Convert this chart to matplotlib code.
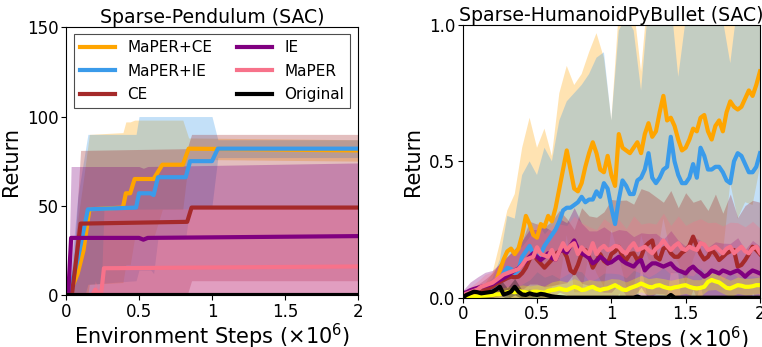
import numpy as np
import matplotlib
matplotlib.use("Agg")
import matplotlib.pyplot as plt

# ---------------- Left panel: Sparse-Pendulum (SAC) ----------------
pend_orange_x = [0, 0.02, 0.08, 0.12, 0.16, 0.39, 0.41, 0.44, 0.47, 0.60, 0.66, 0.80, 0.84, 2.0]
pend_orange_mean = [0, 0, 12, 25, 48, 49, 57, 57, 65, 65, 73, 73, 82, 81]
pend_orange_std = [0, 0, 30, 40, 42, 42, 40, 40, 33, 33, 25, 25, 6, 6]

pend_blue_x = [0, 0.02, 0.08, 0.15, 0.48, 0.50, 0.58, 0.60, 0.63, 0.82, 0.85, 1.00, 1.04, 2.0]
pend_blue_mean = [0, 0, 20, 48, 49, 57, 57, 56, 66, 66, 75, 75, 82, 82]
pend_blue_std = [0, 0, 35, 42, 41, 43, 43, 44, 34, 34, 25, 25, 5, 5]

pend_ce_x = [0, 0.04, 0.10, 0.83, 0.86, 2.0]
pend_ce_mean = [0, 0, 40, 41, 49, 49]
pend_ce_std = [0, 0, 41, 41, 41, 41]

pend_ie_x = [0, 0.015, 0.035, 0.50, 0.53, 0.56, 2.0]
pend_ie_mean = [0, 0, 32, 32, 31, 32, 33]
pend_ie_std = [0, 0, 40, 40, 40, 40, 41]

pend_maper_x = [0, 0.18, 0.20, 0.22, 0.24, 0.26, 2.0]
pend_maper_mean = [0, 0, 3, 1, 0, 15, 16]
pend_maper_std = [0, 0, 5, 3, 0, 33, 33]

pend_orig_x = [0, 2.0]
pend_orig_mean = [0, 0]
pend_orig_std = [0, 0]

# ---------------- Right panel: Sparse-HumanoidPyBullet (SAC) ----------------
hum_x = np.linspace(0, 2, 81)
hum_orange = [0.00, 0.00, 0.005, 0.01, 0.01, 0.015, 0.02, 0.03, 0.04, 0.06,
              0.10, 0.14, 0.17, 0.18, 0.16, 0.18, 0.23, 0.30, 0.27, 0.23,
              0.22, 0.27, 0.26, 0.30, 0.28, 0.33, 0.40, 0.47, 0.54, 0.47,
              0.40, 0.39, 0.42, 0.48, 0.53, 0.57, 0.53, 0.47, 0.46, 0.52,
              0.45, 0.41, 0.60, 0.55, 0.54, 0.53, 0.55, 0.57, 0.53, 0.60,
              0.64, 0.59, 0.61, 0.68, 0.74, 0.65, 0.66, 0.63, 0.58, 0.54,
              0.55, 0.58, 0.62, 0.61, 0.66, 0.67, 0.61, 0.58, 0.63, 0.65,
              0.61, 0.68, 0.72, 0.70, 0.69, 0.70, 0.73, 0.76, 0.74, 0.78, 0.83]
hum_blue = [0.00, 0.00, 0.003, 0.005, 0.008, 0.012, 0.016, 0.02, 0.03, 0.045,
            0.07, 0.09, 0.11, 0.105, 0.09, 0.10, 0.15, 0.17, 0.19, 0.16,
            0.15, 0.16, 0.19, 0.21, 0.23, 0.25, 0.28, 0.32, 0.33, 0.33,
            0.34, 0.35, 0.37, 0.35, 0.36, 0.36, 0.39, 0.37, 0.42, 0.40,
            0.33, 0.27, 0.36, 0.43, 0.41, 0.38, 0.38, 0.43, 0.44, 0.47,
            0.53, 0.44, 0.42, 0.44, 0.47, 0.48, 0.59, 0.50, 0.45, 0.42,
            0.42, 0.44, 0.49, 0.44, 0.55, 0.52, 0.47, 0.47, 0.48, 0.48,
            0.46, 0.43, 0.42, 0.50, 0.53, 0.52, 0.49, 0.46, 0.46, 0.48, 0.53]
hum_ce = [0.004, 0.006, 0.01, 0.012, 0.018, 0.022, 0.028, 0.034, 0.04, 0.05,
          0.058, 0.065, 0.072, 0.077, 0.075, 0.077, 0.09, 0.11, 0.14, 0.16,
          0.14, 0.125, 0.11, 0.125, 0.14, 0.16, 0.17, 0.175, 0.15, 0.10,
          0.09, 0.12, 0.16, 0.175, 0.15, 0.11, 0.135, 0.16, 0.135, 0.125,
          0.16, 0.17, 0.187, 0.15, 0.138, 0.16, 0.163, 0.138, 0.15, 0.187,
          0.20, 0.21, 0.15, 0.14, 0.18, 0.187, 0.163, 0.15, 0.15, 0.165,
          0.175, 0.19, 0.224, 0.19, 0.16, 0.14, 0.15, 0.175, 0.16, 0.138,
          0.15, 0.163, 0.17, 0.175, 0.114, 0.12, 0.138, 0.16, 0.187, 0.175, 0.16]
hum_ie = [0.016, 0.02, 0.027, 0.032, 0.036, 0.04, 0.043, 0.046, 0.05, 0.058,
          0.065, 0.072, 0.08, 0.09, 0.10, 0.107, 0.12, 0.135, 0.15, 0.163,
          0.15, 0.138, 0.15, 0.163, 0.145, 0.14, 0.17, 0.175, 0.165, 0.19,
          0.21, 0.18, 0.163, 0.155, 0.145, 0.126, 0.135, 0.15, 0.14, 0.126,
          0.13, 0.14, 0.15, 0.135, 0.126, 0.12, 0.114, 0.13, 0.138, 0.10,
          0.115, 0.126, 0.126, 0.12, 0.114, 0.12, 0.126, 0.11, 0.10, 0.095,
          0.089, 0.105, 0.114, 0.10, 0.09, 0.077, 0.085, 0.10, 0.095, 0.089,
          0.10, 0.095, 0.089, 0.095, 0.10, 0.09, 0.077, 0.09, 0.10, 0.095, 0.089]
hum_maper = [0.01, 0.015, 0.02, 0.025, 0.03, 0.04, 0.045, 0.05, 0.055, 0.065,
             0.075, 0.085, 0.09, 0.095, 0.10, 0.105, 0.12, 0.14, 0.145, 0.15,
             0.185, 0.16, 0.155, 0.15, 0.175, 0.14, 0.17, 0.20, 0.175, 0.19,
             0.20, 0.16, 0.185, 0.17, 0.16, 0.20, 0.16, 0.18, 0.19, 0.175,
             0.18, 0.19, 0.187, 0.17, 0.163, 0.185, 0.20, 0.175, 0.18, 0.187,
             0.175, 0.163, 0.18, 0.19, 0.21, 0.19, 0.175, 0.19, 0.20, 0.18,
             0.175, 0.187, 0.18, 0.175, 0.20, 0.195, 0.175, 0.18, 0.187, 0.175,
             0.163, 0.18, 0.187, 0.163, 0.175, 0.187, 0.17, 0.163, 0.18, 0.187, 0.165]
hum_yellow = [0.0, 0.002, 0.004, 0.005, 0.006, 0.007, 0.008, 0.009, 0.01, 0.012,
              0.013, 0.016, 0.02, 0.022, 0.02, 0.024, 0.022, 0.02, 0.018, 0.022,
              0.022, 0.02, 0.018, 0.025, 0.028, 0.03, 0.034, 0.03, 0.028, 0.034,
              0.04, 0.036, 0.028, 0.03, 0.036, 0.04, 0.032, 0.028, 0.032, 0.034,
              0.04, 0.046, 0.038, 0.03, 0.028, 0.035, 0.04, 0.045, 0.052, 0.046,
              0.04, 0.038, 0.044, 0.046, 0.04, 0.036, 0.034, 0.038, 0.04, 0.044,
              0.046, 0.04, 0.036, 0.034, 0.036, 0.04, 0.058, 0.065, 0.06, 0.056,
              0.046, 0.036, 0.034, 0.04, 0.046, 0.044, 0.04, 0.04, 0.042, 0.046, 0.046]
hum_orig = [0.0, 0.01, 0.016, 0.022, 0.02, 0.016, 0.018, 0.02, 0.022, 0.03,
            0.04, 0.012, 0.016, 0.022, 0.04, 0.022, 0.012, 0.01, 0.016, 0.012,
            0.01, 0.014, 0.012, 0.008, 0.005, 0.003, 0.002, 0.001, 0.0, 0.0,
            0.0, 0.0, 0.0, 0.0, 0.0, 0.0, 0.0, 0.0, 0.0, 0.0,
            0.0, 0.0, 0.0, 0.0, 0.0, 0.0, 0.0, 0.004, 0.0, 0.0,
            0.0, 0.0, 0.0, 0.0, 0.0, 0.0, 0.01, 0.0, 0.0, 0.0,
            0.0, 0.0, 0.0, 0.0, 0.0, 0.0, 0.0, 0.0, 0.0, 0.0,
            0.0, 0.0, 0.0, 0.0, 0.0, 0.0, 0.0, 0.0, 0.0, 0.0, 0.0]

# band (std) values on a coarser evaluation grid
hum_band_x = np.linspace(0, 2, 41)
hum_orange_band_mean = [0.0, 0.005, 0.01, 0.02, 0.04, 0.10, 0.17, 0.16, 0.23, 0.27,
                        0.22, 0.26, 0.28, 0.40, 0.54, 0.40, 0.42, 0.53, 0.53, 0.46,
                        0.45, 0.60, 0.54, 0.55, 0.53, 0.64, 0.61, 0.74, 0.66, 0.58,
                        0.55, 0.62, 0.66, 0.61, 0.63, 0.61, 0.72, 0.69, 0.73, 0.74, 0.83]
hum_orange_std = [0.0, 0.015, 0.02, 0.03, 0.05, 0.10, 0.15, 0.22, 0.32, 0.39,
                  0.33, 0.36, 0.24, 0.35, 0.31, 0.38, 0.40, 0.37, 0.44, 0.42,
                  0.20, 0.45, 0.50, 0.52, 0.30, 0.50, 0.48, 0.45, 0.50, 0.45,
                  0.50, 0.48, 0.45, 0.46, 0.48, 0.45, 0.30, 0.40, 0.38, 0.40, 0.35]
hum_blue_band_mean = [0.0, 0.003, 0.008, 0.016, 0.03, 0.07, 0.11, 0.09, 0.15, 0.19,
                      0.15, 0.19, 0.23, 0.28, 0.33, 0.34, 0.37, 0.36, 0.39, 0.42,
                      0.33, 0.36, 0.41, 0.38, 0.44, 0.53, 0.42, 0.47, 0.59, 0.45,
                      0.42, 0.49, 0.55, 0.47, 0.48, 0.46, 0.42, 0.53, 0.49, 0.46, 0.53]
hum_blue_std = [0.0, 0.01, 0.015, 0.03, 0.04, 0.07, 0.19, 0.20, 0.30, 0.31,
                0.30, 0.36, 0.27, 0.37, 0.39, 0.41, 0.41, 0.46, 0.49, 0.48,
                0.32, 0.62, 0.62, 0.60, 0.32, 0.55, 0.58, 0.55, 0.50, 0.36,
                0.60, 0.55, 0.50, 0.56, 0.55, 0.56, 0.44, 0.55, 0.55, 0.56, 0.50]
hum_ce_band_mean = [0.004, 0.01, 0.018, 0.028, 0.04, 0.058, 0.072, 0.075, 0.09, 0.14,
                    0.14, 0.11, 0.14, 0.17, 0.15, 0.09, 0.16, 0.15, 0.135, 0.135,
                    0.16, 0.187, 0.138, 0.163, 0.15, 0.20, 0.15, 0.18, 0.163, 0.15,
                    0.175, 0.19, 0.16, 0.15, 0.16, 0.15, 0.17, 0.114, 0.138, 0.187, 0.16]
hum_ce_std = [0.01, 0.02, 0.03, 0.04, 0.05, 0.07, 0.08, 0.10, 0.12, 0.14,
              0.13, 0.15, 0.14, 0.15, 0.14, 0.16, 0.17, 0.15, 0.16, 0.18,
              0.20, 0.17, 0.22, 0.18, 0.25, 0.19, 0.22, 0.17, 0.23, 0.18,
              0.21, 0.16, 0.20, 0.17, 0.22, 0.16, 0.21, 0.18, 0.20, 0.17, 0.19]
hum_ie_band_mean = [0.016, 0.027, 0.036, 0.043, 0.05, 0.065, 0.08, 0.10, 0.12, 0.15,
                    0.15, 0.15, 0.145, 0.17, 0.165, 0.21, 0.163, 0.145, 0.135, 0.14,
                    0.13, 0.15, 0.126, 0.114, 0.138, 0.115, 0.126, 0.114, 0.126, 0.10,
                    0.089, 0.114, 0.09, 0.085, 0.095, 0.10, 0.089, 0.10, 0.077, 0.10, 0.089]
hum_ie_std = [0.01, 0.03, 0.04, 0.05, 0.05, 0.06, 0.07, 0.08, 0.09, 0.10,
              0.10, 0.11, 0.10, 0.12, 0.11, 0.12, 0.11, 0.10, 0.11, 0.12,
              0.11, 0.10, 0.12, 0.11, 0.10, 0.12, 0.11, 0.10, 0.12, 0.11,
              0.10, 0.11, 0.12, 0.10, 0.11, 0.10, 0.11, 0.12, 0.10, 0.11, 0.10]
hum_maper_band_mean = [0.01, 0.02, 0.03, 0.045, 0.055, 0.075, 0.09, 0.10, 0.12, 0.145,
                       0.185, 0.155, 0.175, 0.17, 0.175, 0.20, 0.185, 0.16, 0.16, 0.19,
                       0.18, 0.187, 0.163, 0.20, 0.18, 0.175, 0.18, 0.21, 0.175, 0.20,
                       0.175, 0.18, 0.20, 0.175, 0.187, 0.163, 0.187, 0.175, 0.17, 0.18, 0.165]
hum_maper_std = [0.01, 0.02, 0.03, 0.04, 0.04, 0.05, 0.06, 0.07, 0.07, 0.08,
                 0.09, 0.08, 0.09, 0.10, 0.09, 0.10, 0.09, 0.10, 0.09, 0.10,
                 0.09, 0.10, 0.09, 0.10, 0.09, 0.10, 0.09, 0.10, 0.09, 0.10,
                 0.09, 0.10, 0.09, 0.10, 0.09, 0.10, 0.09, 0.10, 0.09, 0.10, 0.09]
hum_yellow_band_mean = [0.0, 0.004, 0.006, 0.008, 0.01, 0.013, 0.02, 0.02, 0.022, 0.018,
                        0.022, 0.018, 0.028, 0.034, 0.028, 0.04, 0.028, 0.036, 0.032, 0.032,
                        0.04, 0.038, 0.028, 0.04, 0.052, 0.04, 0.044, 0.04, 0.034, 0.04,
                        0.046, 0.036, 0.036, 0.058, 0.06, 0.046, 0.034, 0.046, 0.04, 0.042, 0.046]
hum_yellow_std = [0.0, 0.01, 0.01, 0.015, 0.015, 0.02, 0.02, 0.02, 0.025, 0.025,
                  0.025, 0.025, 0.03, 0.03, 0.03, 0.03, 0.03, 0.03, 0.03, 0.03,
                  0.03, 0.03, 0.03, 0.03, 0.03, 0.03, 0.03, 0.03, 0.03, 0.03,
                  0.03, 0.03, 0.03, 0.03, 0.03, 0.03, 0.03, 0.03, 0.03, 0.03, 0.03]
hum_orig_band_mean = [0.0, 0.016, 0.02, 0.018, 0.022, 0.04, 0.016, 0.04, 0.012, 0.016,
                      0.01, 0.012, 0.005, 0.002, 0.0, 0.0, 0.0, 0.0, 0.0, 0.0,
                      0.0, 0.0, 0.0, 0.0, 0.0, 0.0, 0.0, 0.0, 0.01, 0.0,
                      0.0, 0.0, 0.0, 0.0, 0.0, 0.0, 0.0, 0.0, 0.0, 0.0, 0.0]
hum_orig_std = [0.0, 0.015, 0.02, 0.02, 0.02, 0.03, 0.02, 0.03, 0.015, 0.015,
                0.01, 0.01, 0.005, 0.003, 0.0, 0.0, 0.0, 0.0, 0.0, 0.0,
                0.0, 0.0, 0.0, 0.0, 0.0, 0.0, 0.0, 0.0, 0.01, 0.0,
                0.0, 0.0, 0.0, 0.0, 0.0, 0.0, 0.0, 0.0, 0.0, 0.0, 0.0]

labels = ["MaPER+CE", "MaPER+IE", "CE", "IE", "MaPER", "Original"]
colors = ["#FFA500", "#3A9BEA", "#A52A2A", "#800080", "#F7728A", "#000000"]
yellow = "#FFFF00"

LW = 3.0
ALPHA = 0.3

fig = plt.figure(figsize=(7.62, 3.47), dpi=100)
ax1 = fig.add_axes([66 / 762, 1 - 295 / 347, (358 - 66) / 762, (295 - 27.3) / 347])
ax2 = fig.add_axes([462.7 / 762, 1 - 297.7 / 347, (760 - 462.7) / 762, (297.7 - 25) / 347])

# left panel
pend = [
    (pend_orange_x, pend_orange_mean, pend_orange_std),
    (pend_blue_x, pend_blue_mean, pend_blue_std),
    (pend_ce_x, pend_ce_mean, pend_ce_std),
    (pend_ie_x, pend_ie_mean, pend_ie_std),
    (pend_maper_x, pend_maper_mean, pend_maper_std),
    (pend_orig_x, pend_orig_mean, pend_orig_std),
]
for (x, m, s), c, lab in zip(pend, colors, labels):
    x = np.asarray(x); m = np.asarray(m, float); s = np.asarray(s, float)
    ax1.fill_between(x, m - s, m + s, color=c, alpha=ALPHA, linewidth=0)
for (x, m, s), c, lab in zip(pend, colors, labels):
    ax1.plot(x, m, color=c, lw=LW, label=lab)

ax1.set_xlim(0, 2)
ax1.set_ylim(0, 150)
ax1.set_yticks([0, 50, 100, 150])
ax1.set_xticks([0, 0.5, 1, 1.5, 2])
ax1.set_xticklabels(["0", "0.5", "1", "1.5", "2"])
ax1.set_title("Sparse-Pendulum (SAC)", fontsize=13.6, pad=2)
ax1.set_ylabel("Return", fontsize=15)
ax1.set_xlabel(r"Environment Steps ($\times10^6$)", fontsize=15, labelpad=1)
leg = ax1.legend(loc="upper center", ncol=2, fontsize=11, fancybox=False,
                 edgecolor="0.3", framealpha=1.0, handlelength=2.3,
                 columnspacing=1.6, borderaxespad=0.45, labelspacing=0.55)
leg.get_frame().set_linewidth(0.8)

# right panel
hum_bands = [
    (hum_orange_band_mean, hum_orange_std, colors[0]),
    (hum_blue_band_mean, hum_blue_std, colors[1]),
    (hum_ce_band_mean, hum_ce_std, colors[2]),
    (hum_ie_band_mean, hum_ie_std, colors[3]),
    (hum_maper_band_mean, hum_maper_std, colors[4]),
    (hum_yellow_band_mean, hum_yellow_std, yellow),
    (hum_orig_band_mean, hum_orig_std, colors[5]),
]
for m, s, c in hum_bands:
    m = np.asarray(m, float); s = np.asarray(s, float)
    ax2.fill_between(hum_band_x, m - s, m + s, color=c, alpha=ALPHA, linewidth=0)

hum_lines = [
    (hum_orange, colors[0]),
    (hum_blue, colors[1]),
    (hum_ce, colors[2]),
    (hum_ie, colors[3]),
    (hum_maper, colors[4]),
    (hum_yellow, yellow),
    (hum_orig, colors[5]),
]
for y, c in hum_lines:
    ax2.plot(hum_x, y, color=c, lw=LW)

ax2.set_xlim(0, 2)
ax2.set_ylim(0, 1.0)
ax2.set_yticks([0.0, 0.5, 1.0])
ax2.set_yticklabels(["0.0", "0.5", "1.0"])
ax2.set_xticks([0, 0.5, 1, 1.5, 2])
ax2.set_xticklabels(["0", "0.5", "1", "1.5", "2"])
ax2.set_title("Sparse-HumanoidPyBullet (SAC)", fontsize=13.6, pad=2)
ax2.set_ylabel("Return", fontsize=15)
ax2.set_xlabel(r"Environment Steps ($\times10^6$)", fontsize=15, labelpad=1)

for ax in (ax1, ax2):
    ax.tick_params(labelsize=12, length=3.5, width=0.8, pad=2)

fig.savefig("out.png", dpi=100)
